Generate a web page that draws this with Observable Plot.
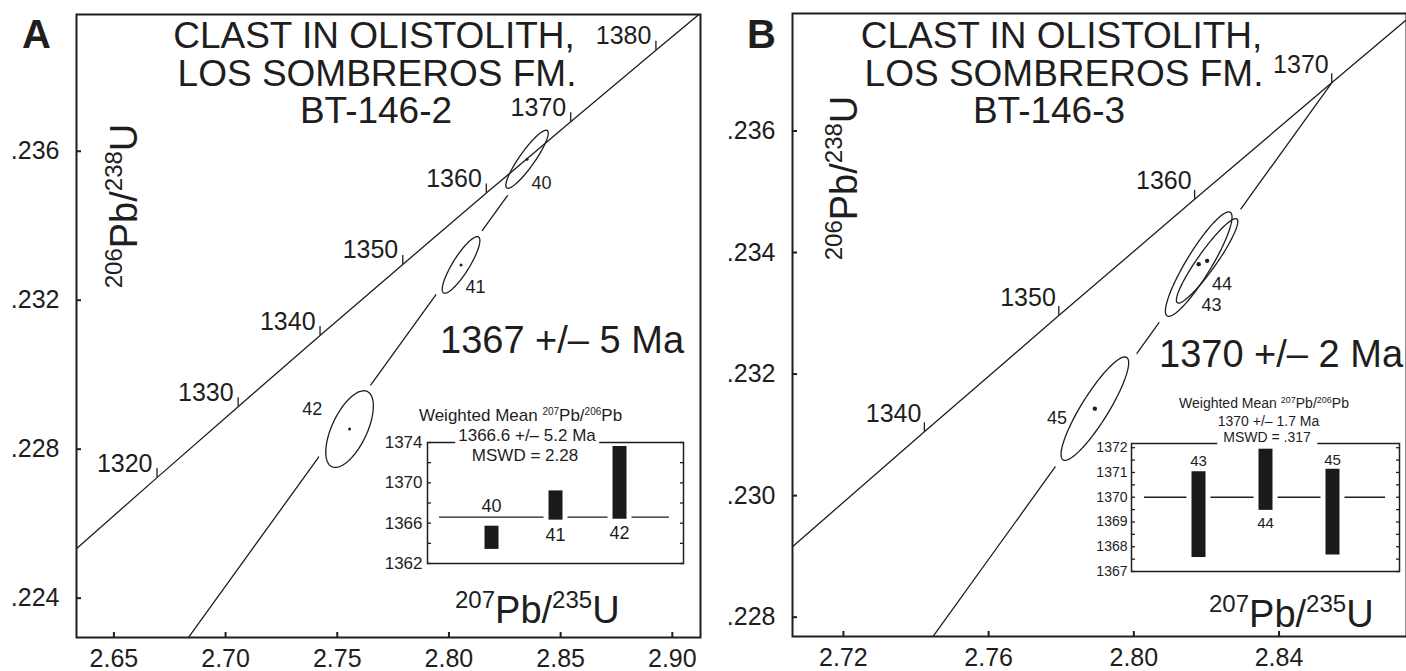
<!DOCTYPE html>
<html><head><meta charset="utf-8">
<script src="https://cdn.jsdelivr.net/npm/d3@7"></script>
<script src="https://cdn.jsdelivr.net/npm/@observablehq/plot@0.6"></script>
<style>
html,body{margin:0;padding:0;background:#fff;}
#root{position:relative;width:1406px;height:671px;overflow:hidden;font-family:"Liberation Sans",Arial,Helvetica,sans-serif;color:#1e1e1e;}
.t{position:absolute;white-space:nowrap;line-height:1;}
</style></head><body><div id="root"></div>
<script>
// ---------- data ----------
// concordia (age in Ma, 207Pb/235U, 206Pb/238U)
const concAges = [1290, 1300, 1310, 1320, 1330, 1340, 1350, 1360, 1370, 1380, 1390];
const concX = [2.562479, 2.597737, 2.633345, 2.669304, 2.705620, 2.742294, 2.779333, 2.816737, 2.854513, 2.892661, 2.931187];
const concY = [0.221539, 0.223435, 0.225335, 0.227237, 0.229142, 0.231050, 0.232962, 0.234876, 0.236793, 0.238713, 0.240636];
const labelAgesA = [1320, 1330, 1340, 1350, 1360, 1370, 1380];
const labelAgesB = [1340, 1350, 1360, 1370];
// discordia chords (lower intercept 0 Ma, upper intercept)
const discAgesA = [0, 1367];
const discXA = [0, 2.84314];
const discYA = [0, 0.236217];
const discAgesB = [0, 1370];
const discXB = [0, 2.854513];
const discYB = [0, 0.236793];
// error ellipses: centre, half extents, correlation
const ellIdA = ["40", "41", "42"];
const ellXA = [2.83496, 2.80542, 2.75551];
const ellYA = [0.235785, 0.232948, 0.22854];
const ellSxA = [0.00949, 0.00842, 0.01065];
const ellSyA = [0.000779, 0.000760, 0.001029];
const ellRhoA = [0.9, 0.86, 0.6];
const ellIdB = ["43", "44", "45"];
const ellXB = [2.81787, 2.82018, 2.78926];
const ellYB = [0.233809, 0.233863, 0.231431];
const ellSxB = [0.009178, 0.008461, 0.009315];
const ellSyB = [0.000859, 0.000695, 0.000851];
const ellRhoB = [0.9, 0.93, 0.885];
// axis ticks
const xTicksA = [2.65, 2.70, 2.75, 2.80, 2.85, 2.90];
const yTicksA = [0.224, 0.228, 0.232, 0.236];
const xTicksB = [2.72, 2.76, 2.80, 2.84];
const yTicksB = [0.228, 0.230, 0.232, 0.234, 0.236];
// weighted mean 207Pb/206Pb insets
const wmIdA = ["40", "41", "42"];
const wmLoA = [1363.4, 1366.3, 1366.4];
const wmHiA = [1365.7, 1369.2, 1373.6];
const wmMeanA = 1366.6;
const wmTicksA = [1362, 1364, 1366, 1368, 1370, 1372, 1374];
const wmIdB = ["43", "44", "45"];
const wmLoB = [1367.57, 1369.47, 1367.67];
const wmHiB = [1371.03, 1371.94, 1371.13];
const wmMeanB = 1370;
const wmTicksB = [1367, 1367.5, 1368, 1368.5, 1369, 1369.5, 1370, 1370.5, 1371, 1371.5, 1372];

// ---------- helpers ----------
const INK = "#1e1e1e";
const FONT = '"Liberation Sans", Arial, Helvetica, sans-serif';
const root = document.getElementById("root");

function ellipseOutline(ids, X, Y, SX, SY, R) {
  const pts = [];
  ids.forEach((id, i) => {
    const q = Math.sqrt(1 - R[i] * R[i]);
    for (let k = 0; k <= 144; k++) {
      const t = 2 * Math.PI * k / 144;
      pts.push({id, x: X[i] + SX[i] * Math.cos(t), y: Y[i] + SY[i] * (R[i] * Math.cos(t) + q * Math.sin(t))});
    }
  });
  return pts;
}
function place(el, left, top) {
  el.style.position = "absolute";
  el.style.left = left + "px";
  el.style.top = top + "px";
  root.appendChild(el);
}
function txt(html, x, base, size, {anchor = "start", weight = 400, bg = null, pad = 0} = {}) {
  const d = document.createElement("div");
  d.className = "t";
  d.innerHTML = html;
  d.style.fontSize = size + "px";
  d.style.fontWeight = weight;
  d.style.left = x + "px";
  d.style.top = (base - 0.8465 * size) + "px";
  if (anchor === "middle") d.style.transform = "translateX(-50%)";
  if (bg) { d.style.background = bg; d.style.padding = `0 ${pad}px 2px`; }
  root.appendChild(d);
}
function vtxt(html, cx, cy, size) {
  const d = document.createElement("div");
  d.className = "t";
  d.innerHTML = html;
  d.style.fontSize = size + "px";
  d.style.left = cx + "px";
  d.style.top = cy + "px";
  d.style.transform = "translate(-50%,-50%) rotate(-90deg)";
  root.appendChild(d);
}
const sup = (s, size, raise) => `<span style="font-size:${size}px;position:relative;top:${-raise}px">${s}</span>`;
const fmtY = d => d3.format(".3f")(d).slice(1);
const fmtX = d3.format(".2f");

const conc = concAges.map((a, i) => ({age: a, x: concX[i], y: concY[i]}));

function concordiaPanel(o) {
  const disc = o.discAges.map((a, i) => ({age: a, x: o.discX[i], y: o.discY[i]}));
  const ell = o.ellId.map((id, i) => ({id, x: o.ellX[i], y: o.ellY[i]}));
  const outline = ellipseOutline(o.ellId, o.ellX, o.ellY, o.ellSx, o.ellSy, o.ellRho);
  const ticks = conc.filter(d => o.labelAges.includes(d.age));
  return Plot.plot({
    width: o.width, height: o.height,
    marginLeft: o.ml, marginRight: o.mr, marginTop: o.mt, marginBottom: o.mb,
    x: {domain: o.xd}, y: {domain: o.yd},
    style: {fontFamily: FONT, fontSize: "25px", color: INK, background: "transparent", overflow: "visible"},
    marks: [
      Plot.line(disc, {x: "x", y: "y", stroke: INK, strokeWidth: 1.3, clip: true}),
      Plot.line(outline, {x: "x", y: "y", z: "id", fill: "white", stroke: "white", strokeWidth: o.halo}),
      Plot.line(conc, {x: "x", y: "y", stroke: INK, strokeWidth: 1.3, clip: true}),
      Plot.ruleX(ticks, {x: "x", y1: "y", y2: "y", insetTop: -9, stroke: INK, strokeWidth: 1.3}),
      Plot.text(ticks, {x: "x", y: "y", text: d => String(d.age), textAnchor: "end", lineAnchor: "bottom",
        dx: o.labDx, dy: o.labDy, fontSize: 25, fill: INK}),
      Plot.line(outline, {x: "x", y: "y", z: "id", stroke: INK, strokeWidth: 1.3}),
      Plot.dot(ell, {x: "x", y: "y", r: o.dotR, fill: INK}),
      ...o.ellLabels.map(l => Plot.text([ell[l.i]], {x: "x", y: "y", text: "id", textAnchor: l.anchor,
        lineAnchor: "bottom", dx: l.dx, dy: l.dy, fontSize: 18, fill: INK})),
      Plot.frame({stroke: INK, strokeWidth: 2}),
      // inward ticks
      Plot.axisY(o.yticks, {tickFormat: () => "", tickSize: -5, strokeWidth: 2, label: null}),
      Plot.axisX(o.xticks, {tickFormat: () => "", tickSize: -5, strokeWidth: 2, label: null}),
      // tick labels
      Plot.text(o.yticks, {y: d => d, text: fmtY, frameAnchor: "left", textAnchor: "end", dx: -17,
        fontSize: 25, fill: INK}),
      Plot.text(o.xticks, {x: d => d, text: fmtX, frameAnchor: "bottom", lineAnchor: "bottom", dy: 29,
        fontSize: 25, fill: INK})
    ]
  });
}

function wmInset(o) {
  const bars = o.ids.map((id, i) => ({id, pos: i + 1, lo: o.lo[i], hi: o.hi[i]}));
  return Plot.plot({
    width: o.width, height: o.height,
    marginLeft: o.ml, marginRight: o.mr, marginTop: o.mt, marginBottom: o.mb,
    x: {domain: [0, 4], axis: null}, y: {domain: o.yd},
    style: {fontFamily: FONT, fontSize: o.fs + "px", color: INK, background: "transparent", overflow: "visible"},
    marks: [
      Plot.ruleY([o.mean], {insetLeft: o.lineL, insetRight: o.lineR, stroke: INK, strokeWidth: 1.3}),
      Plot.ruleX(bars, {x: "pos", y1: "lo", y2: "hi", stroke: "white", strokeWidth: 24}),
      Plot.ruleX(bars, {x: "pos", y1: "lo", y2: "hi", stroke: "#1a1a1a", strokeWidth: 14}),
      ...o.labels.map(l => Plot.text([bars[l.i]], {x: "pos", y: l.at === "mean" ? () => o.mean : l.at,
        text: "id", lineAnchor: "bottom", dy: l.dy, fontSize: o.lfs, fill: INK})),
      Plot.frame({stroke: INK, strokeWidth: 1.5}),
      Plot.axisY(o.ticks, {anchor: "left", tickSize: -4, tickFormat: () => "", strokeWidth: 1.3, label: null}),
      Plot.axisY(o.ticks, {anchor: "right", tickSize: -4, tickFormat: () => "", strokeWidth: 1.3, label: null}),
      Plot.text(o.ticks, {y: d => d, text: o.fmt, frameAnchor: "left", textAnchor: "end", dx: -o.pad,
        fontSize: o.fs, fill: INK})
    ]
  });
}

// ---------- panel A ----------
place(concordiaPanel({
  width: 703, height: 671, ml: 76, mr: 3, mt: 14, mb: 34,
  xd: [2.63326, 2.91262], yd: [0.222944, 0.239672],
  xticks: xTicksA, yticks: yTicksA, labelAges: labelAgesA,
  discAges: discAgesA, discX: discXA, discY: discYA,
  ellId: ellIdA, ellX: ellXA, ellY: ellYA, ellSx: ellSxA, ellSy: ellSyA, ellRho: ellRhoA,
  halo: 14, dotR: 1.5, labDx: -4.5, labDy: -6,
  ellLabels: [{i: 0, dx: 4.5, dy: 29.6, anchor: "start"}, {i: 1, dx: 4.5, dy: 28.4, anchor: "start"},
              {i: 2, dx: -27.3, dy: -14.4, anchor: "end"}]
}), 0, 0);

// ---------- panel B ----------
place(concordiaPanel({
  width: 703, height: 671, ml: 89, mr: 0, mt: 13, mb: 35,
  xd: [2.70597, 2.87511], yd: [0.227682, 0.237933],
  xticks: xTicksB, yticks: yTicksB, labelAges: labelAgesB,
  discAges: discAgesB, discX: discXB, discY: discYB,
  ellId: ellIdB, ellX: ellXB, ellY: ellYB, ellSx: ellSxB, ellSy: ellSyB, ellRho: ellRhoB,
  halo: 20, dotR: 2.2, labDx: -3, labDy: -10,
  ellLabels: [{i: 0, dx: 2.7, dy: 46.9, anchor: "start"}, {i: 1, dx: 5, dy: 29.5, anchor: "start"},
              {i: 2, dx: -27.8, dy: 15.7, anchor: "end"}]
}), 703, 0);

// ---------- insets ----------
place(wmInset({
  width: 309, height: 171, ml: 50, mr: 3, mt: 40, mb: 10,
  yd: [1362, 1374], ids: wmIdA, lo: wmLoA, hi: wmHiA, mean: wmMeanA, ticks: wmTicksA,
  fmt: d => (d % 4 === 2 ? String(d) : ""), fs: 17, lfs: 18, pad: 5, lineL: 12, lineR: 14,
  labels: [{i: 0, at: "mean", dy: -5}, {i: 1, at: "lo", dy: 21}, {i: 2, at: "lo", dy: 20}]
}), 377, 402);

place(wmInset({
  width: 325, height: 178, ml: 50, mr: 7, mt: 40, mb: 10,
  yd: [1367, 1372.17], ids: wmIdB, lo: wmLoB, hi: wmHiB, mean: wmMeanB, ticks: wmTicksB,
  fmt: d => (Number.isInteger(d) ? String(d) : ""), fs: 14, lfs: 15, pad: 4, lineL: 13, lineR: 14,
  labels: [{i: 0, at: "hi", dy: -6}, {i: 1, at: "lo", dy: 18}, {i: 2, at: "hi", dy: -4.5}]
}), 1081, 403);

// ---------- annotations ----------
// panel A
txt("A", 22, 48.3, 40, {weight: 700});
txt("CLAST IN OLISTOLITH,", 374, 48.3, 37, {anchor: "middle"});
txt("LOS SOMBREROS FM.", 377, 86, 37, {anchor: "middle"});
txt("BT-146-2", 376, 123.3, 37, {anchor: "middle"});
txt("1367 +/– 5 Ma", 440, 353, 38);
vtxt(sup("206", 24, 15) + "Pb/" + sup("238", 24, 15) + "U", 124, 206, 38);
txt(sup("207", 24, 15) + "Pb/" + sup("235", 24, 15) + "U", 455, 623.3, 38);
txt("Weighted Mean " + sup("207", 10, 6) + "Pb/" + sup("206", 10, 6) + "Pb", 520.5, 421.7, 17, {anchor: "middle"});
txt("1366.6 +/– 5.2 Ma", 527, 441.7, 17, {anchor: "middle", bg: "#fff", pad: 3});
txt("MSWD = 2.28", 525, 461.7, 17, {anchor: "middle"});
// panel B
txt("B", 747, 48.3, 40, {weight: 700});
txt("CLAST IN OLISTOLITH,", 1061.5, 48.3, 37, {anchor: "middle"});
txt("LOS SOMBREROS FM.", 1064, 86, 37, {anchor: "middle"});
txt("BT-146-3", 1049, 123.3, 37, {anchor: "middle"});
txt("1370 +/– 2 Ma", 1159, 367, 38);
vtxt(sup("206", 24, 15) + "Pb/" + sup("238", 24, 15) + "U", 844, 178, 38);
txt(sup("207", 24, 15) + "Pb/" + sup("235", 24, 15) + "U", 1209, 626.7, 38);
txt("Weighted Mean " + sup("207", 9, 5) + "Pb/" + sup("206", 9, 5) + "Pb", 1264, 408.3, 14, {anchor: "middle"});
txt("1370 +/– 1.7 Ma", 1268.5, 425.7, 14, {anchor: "middle"});
txt("MSWD = .317", 1267, 441.7, 14, {anchor: "middle", bg: "#fff", pad: 6});
</script>
</body></html>
